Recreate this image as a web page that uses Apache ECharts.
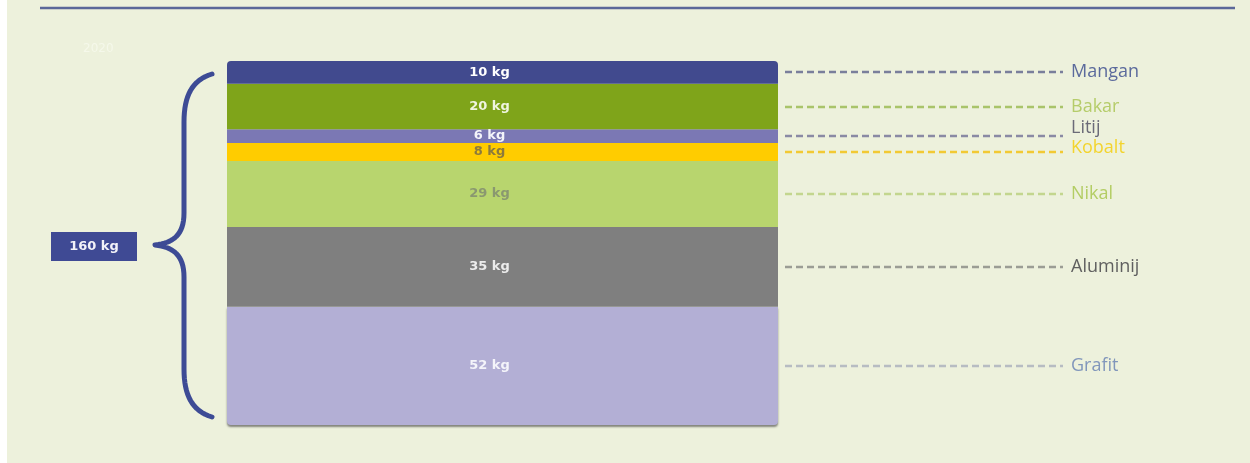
<!DOCTYPE html>
<html>
<head>
<meta charset="utf-8">
<script src="https://cdn.jsdelivr.net/npm/echarts@6/dist/echarts.min.js"></script>
<style>
  html, body { margin: 0; padding: 0; background: #ffffff; }
  #chart { position: absolute; left: 7px; top: 0; width: 1243px; height: 463px; background: #edf1dc; }
</style>
</head>
<body>
<div id="chart"></div>
<script>
// bottom-up stacking order
const materials = ['Grafit', 'Aluminij', 'Nikal', 'Kobalt', 'Litij', 'Bakar', 'Mangan'];
const weightsKg = [52, 35, 29, 8, 6, 20, 10];
const barColors = ['#b3afd5', '#7f7f7f', '#b8d56e', '#ffcc00', '#7b78b4', '#7fa41a', '#414a8e'];
const valueLabelColors = ['#f4f4fa', '#ececec', '#8a9870', '#8c7a3c', '#f4f4fa', '#f0f5e0', '#ffffff'];
const nameColors = ['#8196bb', '#5f5f5f', '#b3cd64', '#f3d42e', '#6b6b78', '#b5cc6a', '#5b6a9c'];
const dashColors = ['#b7bcc2', '#9b9d94', '#c3d68e', '#f2c933', '#8a8aa4', '#a9c46a', '#7a7f9b'];
const yearLabel = '2020';

const total = weightsKg.reduce((a, b) => a + b, 0);

const chart = echarts.init(document.getElementById('chart'));

const series = materials.map((name, i) => ({
  name: name,
  type: 'bar',
  stack: 'total',
  barWidth: '100%',
  data: [weightsKg[i]],
  itemStyle: {
    color: barColors[i],
    borderRadius: i === 0 ? [0, 0, 4, 4] : (i === materials.length - 1 ? [4, 4, 0, 0] : 0),
    shadowColor: i === 0 ? 'rgba(60,60,60,0.6)' : 'transparent',
    shadowOffsetY: i === 0 ? 2 : 0,
    shadowBlur: i === 0 ? 2 : 0
  },
  label: {
    show: true,
    position: 'inside',
    offset: [-13, 0],
    formatter: '{c} kg',
    color: valueLabelColors[i],
    fontFamily: 'DejaVu Sans',
    fontWeight: 'bold',
    fontSize: 13
  }
}));

chart.setOption({
  animation: false,
  backgroundColor: 'transparent',
  title: {
    text: yearLabel,
    left: 71,
    top: 38,
    textStyle: { color: '#f5f8ea', fontSize: 12, fontWeight: 'normal', fontFamily: 'DejaVu Sans' }
  },
  grid: { left: 220, right: 472, top: 61, bottom: 38 },
  xAxis: { type: 'category', data: [yearLabel], show: false },
  yAxis: { type: 'value', min: 0, max: total, show: false },
  series: series
});

// annotations placed through the chart's own scales
const graphics = [];
graphics.push({
  type: 'line',
  shape: { x1: 33, y1: 8, x2: 1228, y2: 8 },
  style: { stroke: '#5b6899', lineWidth: 2.5 }
});

const barRight = chart.getWidth() - 472;
let cum = 0;
materials.forEach((name, i) => {
  const mid = cum + weightsKg[i] / 2;
  cum += weightsKg[i];
  const y = Math.round(chart.convertToPixel({ yAxisIndex: 0 }, mid));
  let dy = 0;
  if (name === 'Litij') dy = -8;
  if (name === 'Kobalt') dy = -4;
  graphics.push({
    type: 'line',
    shape: { x1: barRight + 7, y1: y, x2: barRight + 285, y2: y },
    style: { stroke: dashColors[i], lineWidth: 2.5, lineDash: [7, 4] }
  });
  graphics.push({
    type: 'text',
    x: barRight + 293,
    y: y + dy,
    style: {
      text: name,
      fill: nameColors[i],
      font: '18px "Open Sans", "Noto Sans", sans-serif',
      textVerticalAlign: 'middle'
    }
  });
});

// curly brace spanning the whole stack, one continuous stroke
const yTop = chart.convertToPixel({ yAxisIndex: 0 }, total) + 13;
const yBot = chart.convertToPixel({ yAxisIndex: 0 }, 0) - 8;
const yTip = 245;
function bez(p0, p1, p2, p3, out) {
  for (let k = 1; k <= 16; k++) {
    const t = k / 16, u = 1 - t;
    out.push([
      u * u * u * p0[0] + 3 * u * u * t * p1[0] + 3 * u * t * t * p2[0] + t * t * t * p3[0],
      u * u * u * p0[1] + 3 * u * u * t * p1[1] + 3 * u * t * t * p2[1] + t * t * t * p3[1]
    ]);
  }
}
const bracePts = [[205, yTop]];
bez([205, yTop], [185, yTop + 6], [177, yTop + 22], [177, yTop + 48], bracePts);
bracePts.push([177, yTip - 32]);
bez([177, yTip - 32], [177, yTip - 10], [166, yTip - 2], [148, yTip], bracePts);
bez([148, yTip], [166, yTip + 2], [177, yTip + 10], [177, yTip + 32], bracePts);
bracePts.push([177, yBot - 48]);
bez([177, yBot - 48], [177, yBot - 22], [185, yBot - 6], [205, yBot], bracePts);
graphics.push({
  type: 'polyline',
  shape: { points: bracePts },
  style: { stroke: '#3d4b95', lineWidth: 5, fill: null, lineCap: 'round', lineJoin: 'round' }
});

// total box
graphics.push({
  type: 'rect',
  shape: { x: 44, y: 232, width: 86, height: 29 },
  style: { fill: '#3f4a94' }
});
graphics.push({
  type: 'text',
  x: 87,
  y: 247,
  style: {
    text: total + ' kg',
    fill: '#f2f2f8',
    font: 'bold 13px "DejaVu Sans", sans-serif',
    textAlign: 'center',
    textVerticalAlign: 'middle'
  }
});

chart.setOption({ graphic: graphics });
</script>
</body>
</html>
